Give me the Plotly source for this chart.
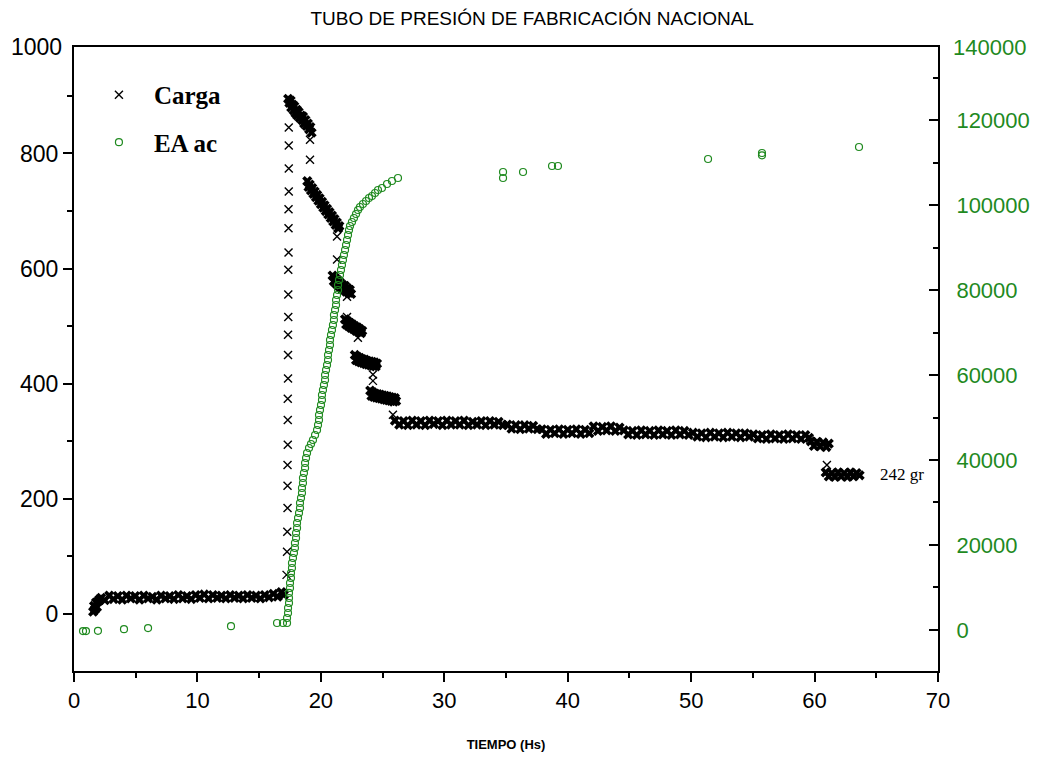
import plotly.graph_objects as go

# ---------------- Carga (left axis) ----------------
# dense bands of readings
carga_t_start = [1.55, 1.62, 1.7, 1.78, 1.86, 1.95, 2.05, 2.2, 2.5, 2.85, 3.2, 3.55, 3.9, 4.25, 4.6, 4.95, 5.3,
                 5.65, 6.0, 6.35, 6.7, 7.05, 7.4, 7.75, 8.1, 8.45, 8.8, 9.15, 9.5, 9.85, 10.2, 10.55, 10.9,
                 11.25, 11.6, 11.95, 12.3, 12.65, 13.0, 13.35, 13.7, 14.05, 14.4, 14.75, 15.1, 15.45, 15.8,
                 16.15, 16.5, 16.8, 17.0]
carga_v_start = [4, 14, 8, 20, 12, 22, 25, 28, 24, 32, 26, 31, 25, 32, 27, 31, 25,
                 32, 27, 30, 25, 32, 27, 31, 26, 33, 27, 31, 26, 33, 28, 34, 27,
                 33, 28, 32, 27, 33, 28, 32, 27, 33, 28, 32, 27, 33, 29,
                 35, 30, 38, 33]

carga_t_peak = [17.35, 17.45, 17.55, 17.6, 17.7, 17.8, 17.85, 17.95, 18.05, 18.1, 18.2, 18.3, 18.4,
                18.5, 18.55, 18.65, 18.75, 18.85, 18.95, 19.05, 19.15, 19.25]
carga_v_peak = [895, 888, 892, 880, 885, 875, 882, 870, 876, 866, 872, 862, 866,
                858, 864, 852, 858, 848, 852, 842, 846, 836]

carga_t_drop1 = [18.9, 19.0, 19.1, 19.2, 19.3, 19.4, 19.5, 19.6, 19.7, 19.8, 19.9, 20.0, 20.1, 20.2,
                 20.3, 20.4, 20.5, 20.6, 20.7, 20.8, 20.9, 21.0, 21.1, 21.2, 21.3, 21.4, 21.5]
carga_v_drop1 = [752, 742, 746, 736, 740, 730, 734, 724, 728, 718, 722, 712, 716, 706,
                 710, 700, 704, 694, 698, 688, 692, 682, 686, 676, 680, 670, 674]

carga_t_steps = [20.95, 21.05, 21.15, 21.25, 21.35, 21.45, 21.55, 21.65, 21.75, 21.85, 21.95, 22.05,
                 22.15, 22.25, 22.35, 22.45,
                 21.95, 22.05, 22.15, 22.25, 22.35, 22.45, 22.55, 22.65, 22.75, 22.85, 22.95, 23.05,
                 23.15, 23.25, 23.35,
                 22.75, 22.85, 22.95, 23.05, 23.15, 23.25, 23.35, 23.45, 23.55, 23.65, 23.75, 23.85,
                 23.95, 24.05, 24.15, 24.25, 24.35, 24.45, 24.55,
                 24.0, 24.1, 24.2, 24.3, 24.4, 24.5, 24.6, 24.7, 24.8, 24.9, 25.0, 25.1, 25.2, 25.3,
                 25.4, 25.5, 25.6, 25.7, 25.8, 25.9, 26.0, 26.1]
carga_v_steps = [588, 578, 584, 574, 580, 570, 576, 566, 572, 564, 570, 560,
                 566, 558, 563, 556,
                 512, 503, 509, 500, 506, 497, 503, 495, 500, 492, 498, 490,
                 495, 488, 492,
                 450, 441, 447, 439, 445, 437, 443, 436, 442, 434, 440, 433,
                 439, 432, 438, 431, 437, 430, 435,
                 388, 379, 385, 377, 383, 376, 382, 375, 381, 374, 380, 373, 379, 372,
                 378, 371, 377, 370, 376, 369, 375, 370]

carga_t_plateau = [26.00, 26.35, 26.70, 27.05, 27.40, 27.75, 28.10, 28.45, 28.80, 29.15, 29.50, 29.85,
                   30.20, 30.55, 30.90, 31.25, 31.60, 31.95, 32.30, 32.65, 33.00, 33.35, 33.70, 34.05,
                   34.40, 34.75, 35.10, 35.45, 35.80, 36.15, 36.50, 36.85, 37.20, 37.55, 37.90, 38.25,
                   38.60, 38.95, 39.30, 39.65, 40.00, 40.35, 40.70, 41.05, 41.40, 41.75, 42.10, 42.45,
                   42.80, 43.15, 43.50, 43.85, 44.20, 44.55, 44.90, 45.25, 45.60, 45.95, 46.30, 46.65,
                   47.00, 47.35, 47.70, 48.05, 48.40, 48.75, 49.10, 49.45, 49.80, 50.15, 50.50, 50.85,
                   51.20, 51.55, 51.90, 52.25, 52.60, 52.95, 53.30, 53.65, 54.00, 54.35, 54.70, 55.05,
                   55.40, 55.75, 56.10, 56.45, 56.80, 57.15, 57.50, 57.85, 58.20, 58.55, 58.90, 59.25,
                   59.55]
carga_v_plateau = [336, 329, 335, 328, 336, 329, 335, 328, 336, 330, 335, 328,
                   336, 329, 335, 329, 336, 328, 334, 329, 335, 328, 335, 329,
                   334, 328, 329, 322, 328, 321, 328, 322, 327, 321, 321, 313,
                   320, 314, 321, 313, 320, 314, 321, 313, 320, 314, 326, 318,
                   325, 319, 326, 318, 324, 319, 312, 318, 311, 319, 312, 318,
                   311, 319, 312, 318, 311, 319, 312, 318, 311, 315, 308, 314,
                   307, 315, 308, 314, 307, 315, 308, 314, 307, 314, 308, 312,
                   305, 311, 304, 312, 305, 311, 304, 312, 305, 311, 304, 311,
                   306]

carga_t_end = [59.7, 59.95, 60.2, 60.45, 60.7, 60.95, 61.15,
               60.9, 61.15, 61.4, 61.65, 61.9, 62.15, 62.4, 62.65, 62.9, 63.15, 63.4, 63.65]
carga_v_end = [300, 292, 299, 291, 298, 290, 296,
               246, 239, 245, 238, 246, 239, 245, 238, 246, 239, 245, 241]

# isolated readings (fast transitions)
carga_t_sparse = [17.22, 17.26, 17.28, 17.3, 17.3, 17.3, 17.32, 17.32, 17.32, 17.34, 17.34, 17.34,
                  17.36, 17.36, 17.36, 17.38, 17.38, 17.38, 17.4, 17.4, 17.4, 17.4,
                  19.12, 19.12, 21.31, 21.31, 22.12, 22.12, 23.0, 24.22, 24.22, 25.84, 61.0]
carga_v_sparse = [68, 108, 143, 184, 223, 259, 294, 337, 374, 409, 450, 485,
                  516, 555, 598, 628, 670, 703, 734, 774, 814, 845,
                  824, 789, 656, 616, 551, 516, 480, 416, 405, 346, 259]

# ---------------- EA ac (right axis) ----------------
ea_t_early = [0.73, 0.97, 1.94, 4.05, 6.0, 12.72, 16.45, 16.93]
ea_v_early = [-250, -250, -200, 200, 450, 900, 1650, 1650]

ea_t_rise = [17.26, 17.26, 17.34, 17.34, 17.42, 17.42, 17.42, 17.50, 17.50, 17.58, 17.58, 17.66, 17.66,
             17.74, 17.82, 17.90, 17.90, 17.99, 17.99, 18.07, 18.07, 18.15, 18.23, 18.31, 18.31, 18.39,
             18.47, 18.47, 18.55, 18.55, 18.63, 18.72, 18.72, 18.80, 18.88, 19.04, 19.20, 19.36, 19.53,
             19.69, 19.77, 19.85, 19.85, 19.93, 20.01, 20.09, 20.09, 20.17, 20.25, 20.34, 20.34, 20.42,
             20.50, 20.58, 20.58, 20.66, 20.74, 20.74, 20.82, 20.90, 20.98, 21.06, 21.06, 21.15, 21.23,
             21.23, 21.31, 21.39, 21.39, 21.47, 21.55, 21.63, 21.71, 21.79, 21.87, 21.96, 22.04, 22.12,
             22.20, 22.28, 22.36, 22.52, 22.68, 22.85, 23.01, 23.17, 23.41, 23.66, 23.90, 24.14, 24.39,
             24.63, 24.95, 25.36, 25.76, 26.25]
ea_v_rise = [1650, 2820, 4000, 5180, 6350, 7530, 8710, 9880, 11060, 12240, 13410, 14590, 15760,
             16940, 18120, 19290, 20470, 21650, 22820, 24000, 25180, 26350, 27530, 28710, 29880, 31060,
             32240, 33410, 34590, 35760, 36940, 38120, 39290, 40470, 41650, 42820, 43760, 44700, 45880,
             47060, 48240, 49410, 50590, 51770, 52940, 54120, 55290, 56470, 57650, 58820, 60000, 61180,
             62350, 63530, 64710, 65880, 67060, 68240, 69410, 70590, 71760, 72940, 74120, 75290, 76470,
             77650, 78820, 80000, 81180, 82350, 83530, 84710, 85880, 87060, 88240, 89410, 90590, 91770,
             92940, 94120, 95060, 96000, 96940, 97880, 98820, 99530, 100240, 100940, 101650, 102120,
             102820, 103530, 104000, 104940, 105650, 106350]

ea_t_late = [34.76, 34.76, 36.38, 38.73, 39.21, 51.37, 55.74, 55.74, 63.6]
ea_v_late = [107770, 106350, 107770, 109180, 109180, 110830, 112240, 111700, 113650]

x_ticks = [0, 10, 20, 30, 40, 50, 60, 70]
left_ticks = [0, 200, 400, 600, 800]
right_ticks = [0, 20000, 40000, 60000, 80000, 100000, 120000]

carga_t_dense = (carga_t_start + carga_t_peak + carga_t_drop1 + carga_t_steps
                 + carga_t_plateau + carga_t_end)
carga_v_dense = (carga_v_start + carga_v_peak + carga_v_drop1 + carga_v_steps
                 + carga_v_plateau + carga_v_end)
ea_t = ea_t_early + ea_t_rise + ea_t_late
ea_v = ea_v_early + ea_v_rise + ea_v_late

GREEN = "#1f8a1f"
NARROW = "Liberation Sans Narrow, Arial Narrow, Liberation Sans, Arial, sans-serif"
SANS = "Liberation Sans, Arial, sans-serif"
SERIF = "Liberation Serif, Times New Roman, serif"

fig = go.Figure()
fig.add_trace(go.Scatter(
    x=carga_t_sparse, y=carga_v_sparse, mode="markers", name="<b>Carga</b>", legendgroup="a",
    marker=dict(symbol="x-thin-open", size=8, color="black", line=dict(color="black", width=1.4)),
))
fig.add_trace(go.Scatter(
    x=carga_t_dense, y=carga_v_dense, mode="markers", name="Carga", legendgroup="a", showlegend=False,
    marker=dict(symbol="x", size=9, color="black", line=dict(width=0)),
))
fig.add_trace(go.Scatter(
    x=ea_t, y=ea_v, mode="markers", name="<b>EA ac</b>", yaxis="y2", legendgroup="b",
    marker=dict(symbol="circle-open", size=7, color=GREEN, line=dict(color=GREEN, width=1.2)),
))

fig.update_layout(
    width=1034, height=751,
    margin=dict(l=66, r=104, t=39, b=88, autoexpand=False),
    paper_bgcolor="white", plot_bgcolor="white",
    title=dict(text="TUBO DE PRESIÓN DE FABRICACIÓN NACIONAL", x=0.507, xanchor="center",
               y=1 - 10 / 751, yanchor="middle", font=dict(family=SANS, size=19, color="black")),
    xaxis=dict(range=[0, 70], tickvals=x_ticks, ticks="outside", ticklen=9, tickwidth=2,
               tickcolor="black", minor=dict(dtick=5, tick0=0, ticks="outside", ticklen=5, tickwidth=2,
                                             tickcolor="black"),
               showline=True, linewidth=2, linecolor="black", mirror=True,
               showgrid=False, zeroline=False, automargin=False,
               tickfont=dict(family=NARROW, size=22, color="black"),
               title=dict(text="<b>TIEMPO (Hs)</b>", standoff=27,
                          font=dict(family=NARROW, size=13, color="black"))),
    yaxis=dict(range=[-99, 985], tickvals=left_ticks, ticks="outside", ticklen=9, tickwidth=2,
               tickcolor="black", minor=dict(dtick=100, tick0=0, ticks="outside", ticklen=5, tickwidth=2,
                                             tickcolor="black"),
               showline=True, linewidth=2, linecolor="black",
               showgrid=False, zeroline=False, automargin=False,
               tickfont=dict(family=SANS, size=23, color="black")),
    yaxis2=dict(range=[-9650, 137180], overlaying="y", side="right", tickvals=right_ticks,
                tickformat="d", ticks="inside", ticklen=9, tickwidth=2, tickcolor="black",
                minor=dict(dtick=10000, tick0=0, ticks="inside", ticklen=5, tickwidth=2,
                           tickcolor="black"),
                showline=True, linewidth=2, linecolor="black",
                showgrid=False, zeroline=False, automargin=False, ticklabelstandoff=12,
                tickfont=dict(family=SANS, size=22, color=GREEN)),
    legend=dict(x=0.0115, y=0.96, xanchor="left", yanchor="top", bgcolor="rgba(0,0,0,0)",
                font=dict(family=SERIF, size=25, color="black"), itemwidth=60, tracegroupgap=12),
    showlegend=True,
    annotations=[
        dict(text="242 gr", x=65.1, y=242, xref="x", yref="y", xanchor="left", yanchor="middle",
             showarrow=False, font=dict(family=SERIF, size=17, color="black")),
        dict(text="1000", x=0, y=1, xref="paper", yref="paper", xanchor="right", yanchor="middle",
             xshift=-10, showarrow=False, font=dict(family=SANS, size=23, color="black")),
        dict(text="140000", x=1, y=1, xref="paper", yref="paper", xanchor="left", yanchor="middle",
             xshift=13, showarrow=False, font=dict(family=SANS, size=22, color=GREEN)),
    ],
)

fig.write_html("out.html")
